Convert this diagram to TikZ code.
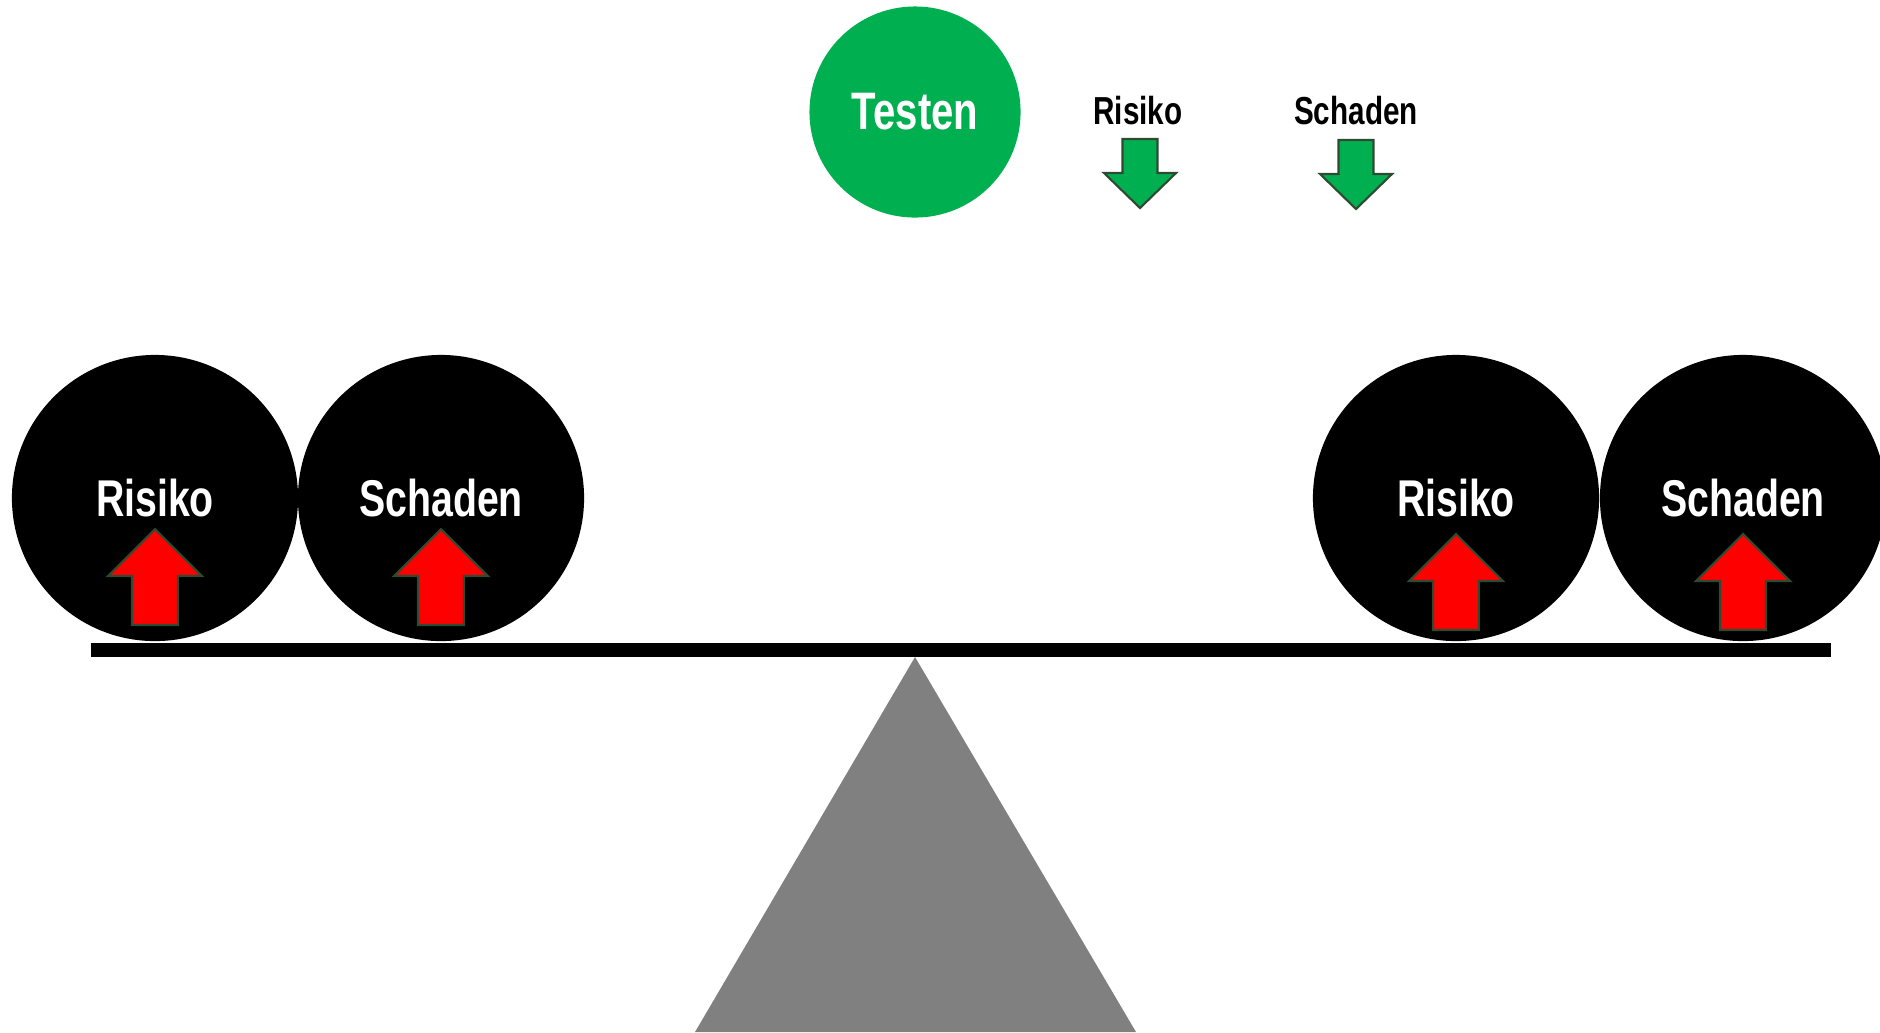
\documentclass[tikz,border=0pt]{standalone}
\usepackage{fontspec}
\setmainfont{Liberation Sans}[FakeStretch=0.76]
\usepackage{xcolor}
\usepackage{tikz}
\definecolor{testgreen}{RGB}{0, 176, 80}
\definecolor{arrowedge}{RGB}{47, 74, 50}
\definecolor{pivotgray}{RGB}{128, 128, 128}

\begin{document}
\begin{tikzpicture}[
    x=0.01cm, y=-0.01cm,
    weight/.style={circle, fill=black, text=white, minimum size=2.86cm, inner sep=0pt, font=\fontsize{14.7}{16}\selectfont\bfseries},
    tag/.style={text=black, inner sep=0pt, font=\fontsize{11.1}{13}\selectfont\bfseries},
    redup/.pic={\draw[fill=red, draw=arrowedge, line width=0.6pt] (0,0) -- (47,47) -- (23,47) -- (23,96) -- (-23,96) -- (-23,47) -- (-47,47) -- cycle;},
    greendown/.pic={\draw[fill=testgreen, draw=arrowedge, line width=0.6pt] (-17.5,0) -- (17.5,0) -- (17.5,34) -- (36,34) -- (0,69) -- (-36,34) -- (-17.5,34) -- cycle;}
]
    \useasboundingbox (0,0) rectangle (1880,1032);

    % pivot and beam
    \fill[pivotgray] (915,657) -- (1136,1032) -- (695,1032) -- cycle;
    \fill[black] (91,643) rectangle (1831,657);

    % testing on top
    \node[circle, fill=testgreen, text=white, minimum size=2.11cm, inner sep=0pt, font=\fontsize{15}{16}\selectfont\bfseries] (test) at (915,112) {Testen};
    \node[tag] (riskTag) at (1138,111) {Risiko};
    \node[tag] (harmTag) at (1356,111) {Schaden};
    \pic at (1140,139) {greendown};
    \pic at (1356,140) {greendown};

    % weights on the beam
    \node[weight] (riskL) at (155,498) {Risiko};
    \node[weight] (harmL) at (441,498) {Schaden};
    \node[weight] (riskR) at (1456,498) {Risiko};
    \node[weight] (harmR) at (1743,498) {Schaden};

    \pic at (155,529) {redup};
    \pic at (441,529) {redup};
    \pic at (1456,534) {redup};
    \pic at (1743,534) {redup};
\end{tikzpicture}
\end{document}
